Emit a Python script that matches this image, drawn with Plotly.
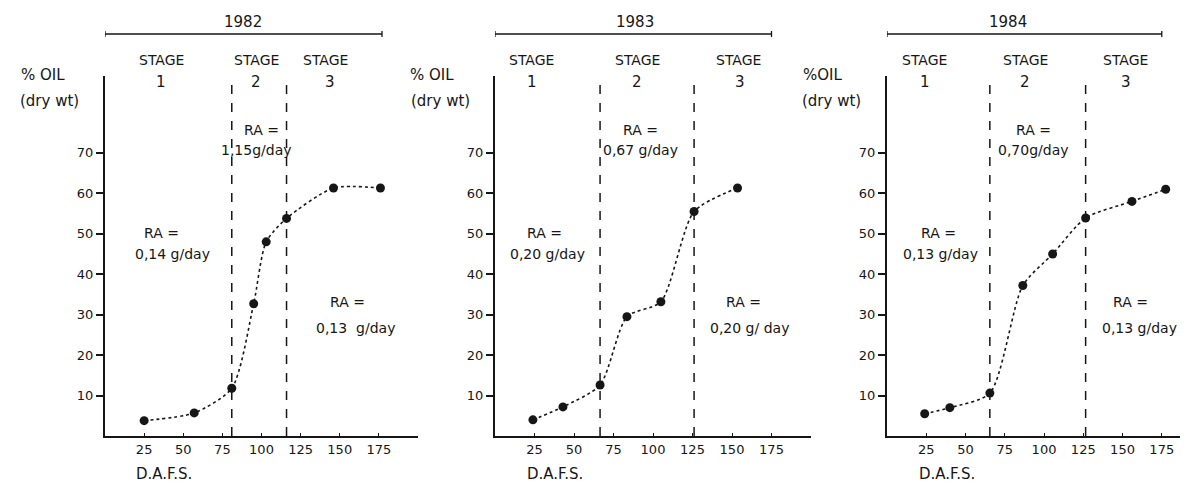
import plotly.graph_objects as go

# ---------------- data ----------------
years = ["1982", "1983", "1984"]
dafs_1982 = [25, 57, 81, 95, 103, 116, 146, 176]
oil_1982 = [3.8, 5.7, 11.8, 32.7, 48, 53.8, 61.3, 61.3]
dafs_1983 = [24, 43, 66.5, 83.5, 105, 126, 153.5]
oil_1983 = [4.0, 7.2, 12.6, 29.5, 33.2, 55.5, 61.3]
dafs_1984 = [24, 40, 65.5, 86.5, 105.5, 126.5, 156, 177.5]
oil_1984 = [5.5, 7.0, 10.6, 37.2, 45.0, 53.9, 58.0, 61.0]
stage_bounds = [[81, 116], [66.5, 126], [65.5, 126.5]]
ra_stage1 = ["0,14 g/day", "0,20 g/day", "0,13 g/day"]
ra_stage2 = ["1,15g/day", "0,67 g/day", "0,70g/day"]
ra_stage3 = ["0,13  g/day", "0,20 g/ day", "0,13 g/day"]
oil_label = ["% OIL", "% OIL", "%OIL"]
x_ticks = [25, 50, 75, 100, 125, 150, 175]
y_ticks = [10, 20, 30, 40, 50, 60, 70]

# the page places the figure 8px from the top-left corner
OFF = 8
W, H = 1188 - OFF, 484 - OFF
FONT = "DejaVu Sans"
INK = "#161616"

def px(p):  # reference pixel column -> paper x
    return (p - OFF) / W

def py(p):  # reference pixel row -> paper y
    return (H - (p - OFF)) / H

domains = [(px(105), px(418)), (px(495), px(811)), (px(887), 1.0)]
xranges = [[0, 200], [0, 200], [0, 191.7]]
yrange = [0, 89]
ydom = [py(436), py(76)]

# text x positions (data units of each panel); oil/dry in reference pixels
pos = [
    dict(year=88, s1=36, s2=96.5, s3=141, n3=144, ra1a=36, ra1b=43, ra2a=100, ra2b=96.5,
         ra3a=155, ra3b=160, dafs=38, oil=43, dry=49, br1=177),
    dict(year=88.6, s1=23.4, s2=90, s3=154, n3=155, ra1a=31.6, ra1b=33, ra2a=92, ra2b=92,
         ra3a=157, ra3b=161, dafs=38, oil=432, dry=440, br1=175),
    dict(year=77, s1=24, s2=88, s3=152, n3=152, ra1a=32.5, ra1b=34, ra2a=93, ra2b=93,
         ra3a=155, ra3b=161, dafs=38, oil=822, dry=831, br1=175),
]

xs = [dafs_1982, dafs_1983, dafs_1984]
ys = [oil_1982, oil_1983, oil_1984]

fig = go.Figure()
annotations = []
shapes = []

for i in range(3):
    xa = "x" if i == 0 else f"x{i+1}"
    ya = "y" if i == 0 else f"y{i+1}"
    fig.add_trace(go.Scatter(
        x=xs[i], y=ys[i], mode="lines+markers", xaxis=xa, yaxis=ya,
        line=dict(shape="spline", smoothing=0.7, dash="dot", width=1.6, color=INK),
        marker=dict(size=9, color=INK), showlegend=False, cliponaxis=False,
    ))
    axkey = "" if i == 0 else str(i + 1)
    fig.update_layout(**{
        f"xaxis{axkey}": dict(
            domain=list(domains[i]), range=xranges[i], anchor=ya,
            showline=True, linewidth=2, linecolor=INK, mirror=False,
            showgrid=False, zeroline=False,
            tickmode="array", tickvals=x_ticks, ticktext=[str(t) for t in x_ticks],
            ticks="inside", ticklen=3, tickwidth=1.2, tickcolor=INK,
            tickfont=dict(family=FONT, size=13, color=INK),
        ),
        f"yaxis{axkey}": dict(
            domain=ydom, range=yrange, anchor=xa,
            showline=True, linewidth=2, linecolor=INK,
            showgrid=False, zeroline=False,
            tickmode="array", tickvals=y_ticks, ticktext=[str(t) for t in y_ticks],
            ticks="outside", ticklen=7, tickwidth=1.5, tickcolor=INK,
            tickfont=dict(family=FONT, size=13, color=INK),
        ),
    })
    p = pos[i]
    # stage boundaries
    for b in stage_bounds[i]:
        shapes.append(dict(type="line", xref=xa, yref=ya,
                           x0=b, x1=b, y0=0, y1=yrange[1],
                           line=dict(color=INK, width=1.5, dash="dash")))
    # year bracket
    bry = py(34)
    shapes.append(dict(type="line", xref=xa, yref="paper", x0=0, x1=p["br1"], y0=bry, y1=bry,
                       line=dict(color=INK, width=1.3)))
    for bx in (0, p["br1"]):
        shapes.append(dict(type="line", xref=xa, yref="paper", x0=bx, x1=bx,
                           y0=py(31), y1=py(37), line=dict(color=INK, width=1.3)))

    def ann(x, yp, text, size=13, xref=xa):
        annotations.append(dict(xref=xref, yref="paper",
                                x=(px(x) if xref == "paper" else x), y=py(yp), text=text,
                                showarrow=False, xanchor="center", yanchor="middle",
                                font=dict(family=FONT, size=size, color=INK)))

    ann(p["year"], 22, years[i], 15)
    ann(p["s1"], 60, "STAGE", 14)
    ann(p["s2"], 60, "STAGE", 14)
    ann(p["s3"], 60, "STAGE", 14)
    ann(p["s1"], 82, "1", 15)
    ann(p["s2"], 82, "2", 15)
    ann(p["n3"], 82, "3", 15)
    ann(p["oil"], 75, oil_label[i], 15, xref="paper")
    ann(p["dry"], 101, "(dry wt)", 15, xref="paper")
    ann(p["ra1a"], 233, "RA =", 14)
    ann(p["ra1b"], 254, ra_stage1[i], 14)
    ann(p["ra2a"], 130, "RA =", 14)
    ann(p["ra2b"], 150, ra_stage2[i], 14)
    ann(p["ra3a"], 302, "RA =", 14)
    ann(p["ra3b"], 328, ra_stage3[i], 14)
    ann(p["dafs"], 474, "D.A.F.S.", 15)

fig.update_layout(
    width=W, height=H, margin=dict(l=0, r=0, t=0, b=0),
    paper_bgcolor="white", plot_bgcolor="white",
    annotations=annotations, shapes=shapes, showlegend=False,
)

fig.write_html("out.html")
